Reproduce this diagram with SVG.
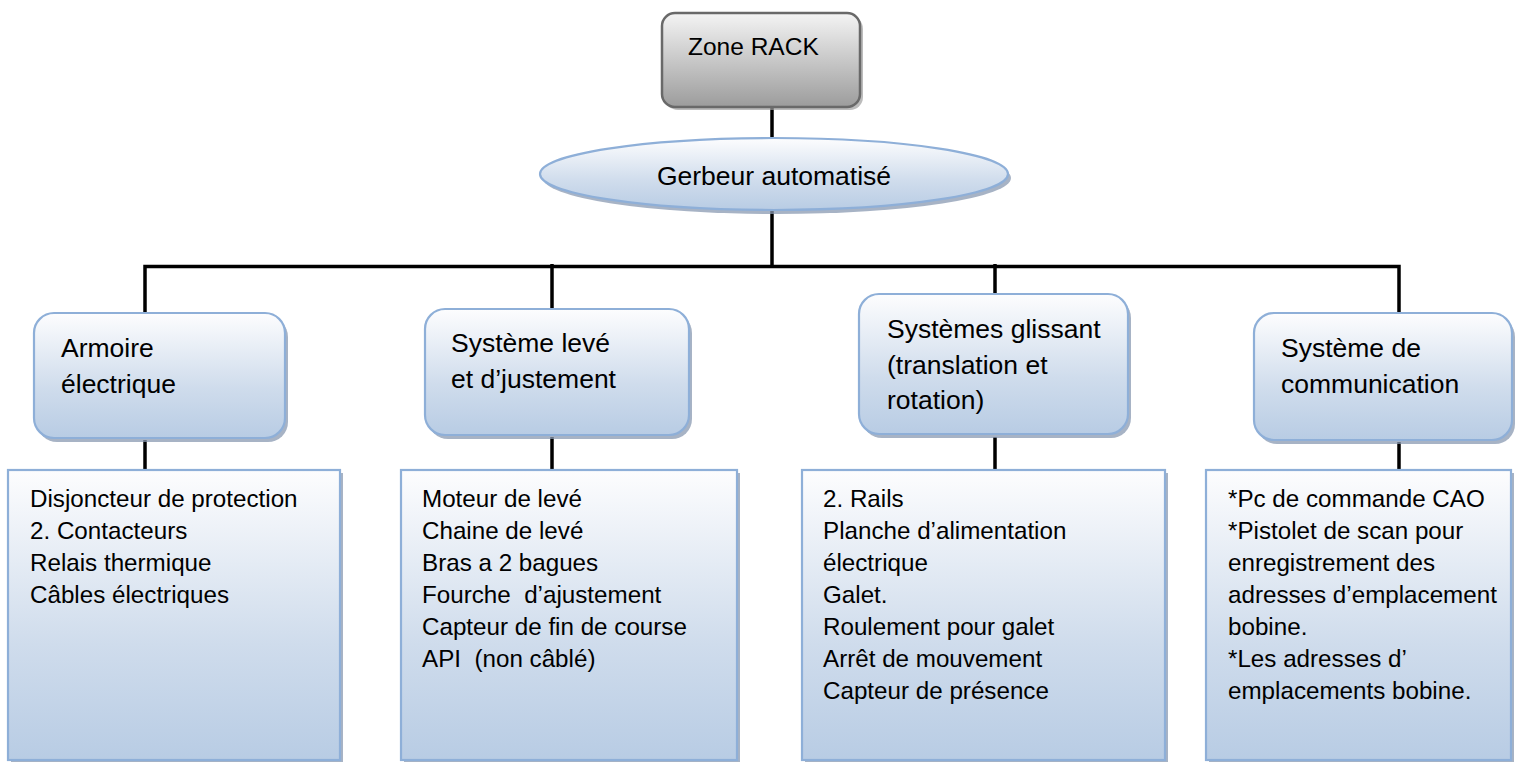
<svg xmlns="http://www.w3.org/2000/svg" width="1517" height="762" viewBox="0 0 1517 762">
<defs>
<linearGradient id="gBlue" x1="0" y1="0" x2="0" y2="1">
<stop offset="0" stop-color="#fdfdfe"/>
<stop offset="0.6" stop-color="#cfdcec"/>
<stop offset="1" stop-color="#b8cce4"/>
</linearGradient>
<linearGradient id="gGray" x1="0" y1="0" x2="0" y2="1">
<stop offset="0" stop-color="#f4f4f4"/>
<stop offset="1" stop-color="#9c9c9c"/>
</linearGradient>
<style>
.conn{stroke:#000;stroke-width:3.5;fill:none;stroke-linecap:butt}
.sh{fill:#8a9ab2;opacity:0.75}
.bx{fill:url(#gBlue);stroke:#8eafd8;stroke-width:2.2}
.gx{fill:url(#gGray);stroke:#696969;stroke-width:2.5}
.t{font-family:"Liberation Sans",Arial,sans-serif;fill:#000}
.up{font-size:26.5px}
.lo{font-size:24.2px}
</style>
</defs>
<rect width="1517" height="762" fill="#fff"/>
<g id="connectors">
<line class="conn" x1="772" y1="107" x2="772" y2="138"/>
<line class="conn" x1="772" y1="210" x2="772" y2="268"/>
<polyline class="conn" points="145,313 145,266.5 1399,266.5 1399,313"/>
<line class="conn" x1="552" y1="264" x2="552" y2="309"/>
<line class="conn" x1="995" y1="264" x2="995" y2="294"/>
<line class="conn" x1="145" y1="440" x2="145" y2="470"/>
<line class="conn" x1="552" y1="437" x2="552" y2="470"/>
<line class="conn" x1="995" y1="437" x2="995" y2="470"/>
<line class="conn" x1="1399" y1="442" x2="1399" y2="470"/>
</g>
<g id="zone-rack">
<rect x="665" y="16" width="198" height="94" rx="13" fill="#a0a0a0" opacity="0.7"/>
<rect class="gx" x="662" y="13" width="198" height="94" rx="13"/>
<text class="t" x="688" y="55" font-size="24.5px">Zone RACK</text>
</g>
<g id="gerbeur">
<ellipse cx="777" cy="178" rx="234" ry="36" class="sh"/>
<ellipse cx="774" cy="174" rx="234" ry="36" class="bx"/>
<text class="t" x="774" y="185" font-size="26.5px" text-anchor="middle">Gerbeur automatisé</text>
</g>
<g id="armoire">
<rect class="sh" x="37" y="317" width="251" height="125" rx="20"/>
<rect class="bx" x="34" y="313" width="251" height="125" rx="20"/>
<text class="t up" x="61" y="357">Armoire</text>
<text class="t up" x="61" y="393">électrique</text>
</g>
<g id="systeme-leve">
<rect class="sh" x="428" y="313" width="264" height="126" rx="20"/>
<rect class="bx" x="425" y="309" width="264" height="126" rx="20"/>
<text class="t up" x="451" y="352">Système levé</text>
<text class="t up" x="451" y="388">et d’justement</text>
</g>
<g id="systemes-glissant">
<rect class="sh" x="862" y="298" width="269" height="140" rx="20"/>
<rect class="bx" x="859" y="294" width="269" height="140" rx="20"/>
<text class="t up" x="887" y="338">Systèmes glissant</text>
<text class="t up" x="887" y="374">(translation et</text>
<text class="t up" x="887" y="409">rotation)</text>
</g>
<g id="systeme-communication">
<rect class="sh" x="1257" y="317" width="258" height="127" rx="20"/>
<rect class="bx" x="1254" y="313" width="258" height="127" rx="20"/>
<text class="t up" x="1281" y="357">Système de</text>
<text class="t up" x="1281" y="393">communication</text>
</g>
<g id="liste-armoire">
<rect class="sh" x="11" y="473" width="332" height="290"/>
<rect class="bx" x="8" y="470" width="332" height="290"/>
<text class="t lo" x="30" y="507">Disjoncteur de protection</text>
<text class="t lo" x="30" y="539">2. Contacteurs</text>
<text class="t lo" x="30" y="571">Relais thermique</text>
<text class="t lo" x="30" y="603">Câbles électriques</text>
</g>
<g id="liste-leve">
<rect class="sh" x="404" y="473" width="336" height="290"/>
<rect class="bx" x="401" y="470" width="336" height="290"/>
<text class="t lo" x="422" y="507">Moteur de levé</text>
<text class="t lo" x="422" y="539">Chaine de levé</text>
<text class="t lo" x="422" y="571">Bras a 2 bagues</text>
<text class="t lo" x="422" y="603" xml:space="preserve">Fourche  d’ajustement</text>
<text class="t lo" x="422" y="635">Capteur de fin de course</text>
<text class="t lo" x="422" y="667" xml:space="preserve">API  (non câblé)</text>
</g>
<g id="liste-glissant">
<rect class="sh" x="805" y="473" width="363" height="290"/>
<rect class="bx" x="802" y="470" width="363" height="290"/>
<text class="t lo" x="823" y="507">2. Rails</text>
<text class="t lo" x="823" y="539">Planche d’alimentation</text>
<text class="t lo" x="823" y="571">électrique</text>
<text class="t lo" x="823" y="603">Galet.</text>
<text class="t lo" x="823" y="635">Roulement pour galet</text>
<text class="t lo" x="823" y="667">Arrêt de mouvement</text>
<text class="t lo" x="823" y="699">Capteur de présence</text>
</g>
<g id="liste-communication">
<rect class="sh" x="1209" y="473" width="305" height="290"/>
<rect class="bx" x="1206" y="470" width="305" height="290"/>
<text class="t lo" x="1228" y="507">*Pc de commande CAO</text>
<text class="t lo" x="1228" y="539">*Pistolet de scan pour</text>
<text class="t lo" x="1228" y="571">enregistrement des</text>
<text class="t lo" x="1228" y="603">adresses d’emplacement</text>
<text class="t lo" x="1228" y="635">bobine.</text>
<text class="t lo" x="1228" y="667">*Les adresses d’</text>
<text class="t lo" x="1228" y="699">emplacements bobine.</text>
</g>
</svg>
